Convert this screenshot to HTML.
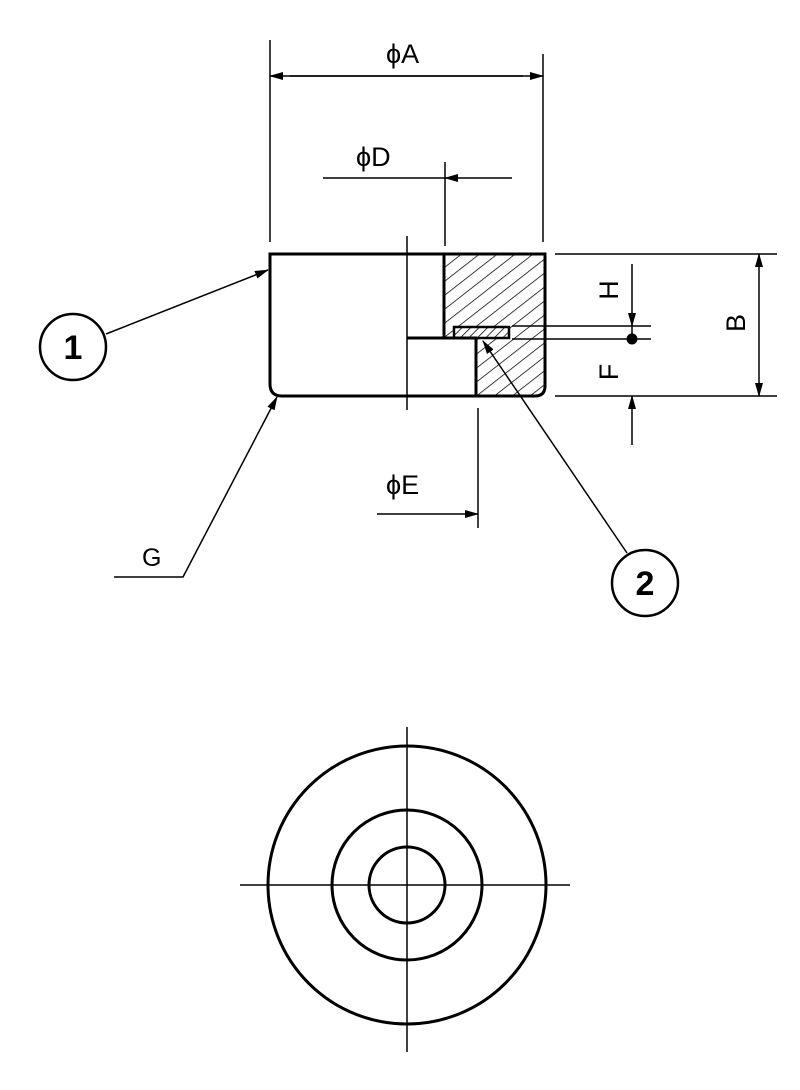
<!DOCTYPE html>
<html><head><style>body{margin:0;background:#fff}svg{display:block}text{font-family:"Liberation Sans",sans-serif;fill:#000}</style></head>
<body>
<svg width="800" height="1090" viewBox="0 0 800 1090" xmlns="http://www.w3.org/2000/svg">
<defs>
<marker id="ar" markerWidth="14" markerHeight="8" refX="13" refY="4" orient="auto" markerUnits="userSpaceOnUse"><path d="M0,0 L14,4 L0,8 Z" fill="#000"/></marker>
<pattern id="h" width="11" height="11" patternUnits="userSpaceOnUse" patternTransform="rotate(52)"><line x1="0" y1="0" x2="0" y2="11" stroke="#000" stroke-width="1.5"/></pattern>
<pattern id="h2" width="6" height="6" patternUnits="userSpaceOnUse" patternTransform="rotate(45)"><line x1="0" y1="0" x2="0" y2="6" stroke="#000" stroke-width="1.5"/></pattern>
</defs>
<g stroke="#000" fill="none">
<path d="M444,254 H545 V386 Q545,396 535,396 H476 V338 H444 Z" fill="url(#h)" stroke="none"/>
<rect x="454" y="327" width="55" height="11" fill="#fff" stroke="none"/>
<rect x="454" y="327" width="55" height="11" fill="url(#h2)" stroke-width="2.5"/>
<path d="M270,254 H545 V386 Q545,396 535,396 H282 Q270,396 270,384 Z" stroke-width="3"/>
<path d="M444,254 V338 H407 M444,338 H476 V396" stroke-width="3"/>
<line x1="407" y1="236" x2="407" y2="410" stroke-width="1.5"/>
<line x1="270" y1="40" x2="270" y2="242" stroke-width="1.5"/>
<line x1="543" y1="54" x2="543" y2="242" stroke-width="1.5"/>
<line x1="290" y1="76" x2="543" y2="76" stroke-width="1.5" marker-end="url(#ar)"/>
<line x1="523" y1="76" x2="270" y2="76" stroke-width="1.5" marker-end="url(#ar)"/>
<line x1="445" y1="162" x2="445" y2="246" stroke-width="1.5"/>
<line x1="323" y1="178" x2="445" y2="178" stroke-width="1.5"/>
<line x1="512" y1="178" x2="445" y2="178" stroke-width="1.5" marker-end="url(#ar)"/>
<line x1="478" y1="408" x2="478" y2="528" stroke-width="1.5"/>
<line x1="377" y1="514" x2="478" y2="514" stroke-width="1.5" marker-end="url(#ar)"/>
<line x1="555" y1="254" x2="777" y2="254" stroke-width="1.5"/>
<line x1="555" y1="396" x2="777" y2="396" stroke-width="1.5"/>
<line x1="759" y1="300" x2="759" y2="254" stroke-width="1.5" marker-end="url(#ar)"/>
<line x1="759" y1="300" x2="759" y2="396" stroke-width="1.5" marker-end="url(#ar)"/>
<line x1="512" y1="326" x2="651" y2="326" stroke-width="1.5"/>
<line x1="512" y1="339" x2="651" y2="339" stroke-width="1.5"/>
<line x1="632" y1="264" x2="632" y2="326" stroke-width="1.5" marker-end="url(#ar)"/>
<line x1="632" y1="326" x2="632" y2="339" stroke-width="1.5"/>
<circle cx="632" cy="339" r="5" fill="#000"/>
<line x1="632" y1="445" x2="632" y2="396" stroke-width="1.5" marker-end="url(#ar)"/>
<circle cx="73" cy="347" r="33" stroke-width="2.5"/>
<line x1="106" y1="334" x2="268" y2="270" stroke-width="1.5" marker-end="url(#ar)"/>
<circle cx="645" cy="583" r="33" stroke-width="2.5"/>
<line x1="627" y1="553" x2="483" y2="341" stroke-width="1.5" marker-end="url(#ar)"/>
<polyline points="114,577 183,577 277,397" stroke-width="1.5" marker-end="url(#ar)"/>
<circle cx="407" cy="885" r="139" stroke-width="3"/>
<circle cx="407" cy="885" r="75" stroke-width="3"/>
<circle cx="407" cy="885" r="38" stroke-width="3"/>
<line x1="240" y1="885" x2="570" y2="885" stroke-width="1.5"/>
<line x1="407" y1="727" x2="407" y2="1052" stroke-width="1.5"/>
</g>
<g font-size="27">
<text x="386" y="63">ϕA</text>
<text x="356" y="166">ϕD</text>
<text x="386" y="494">ϕE</text>
<text x="142" y="566" font-size="25">G</text>
<text x="0" y="0" transform="translate(618,290) rotate(-90)" text-anchor="middle">H</text>
<text x="0" y="0" transform="translate(618,372) rotate(-90)" text-anchor="middle">F</text>
<text x="0" y="0" transform="translate(745,323) rotate(-90)" text-anchor="middle">B</text>
<text x="73" y="359" font-size="34" font-weight="bold" text-anchor="middle">1</text>
<text x="645" y="595" font-size="34" font-weight="bold" text-anchor="middle">2</text>
</g>
</svg>
</body></html>
